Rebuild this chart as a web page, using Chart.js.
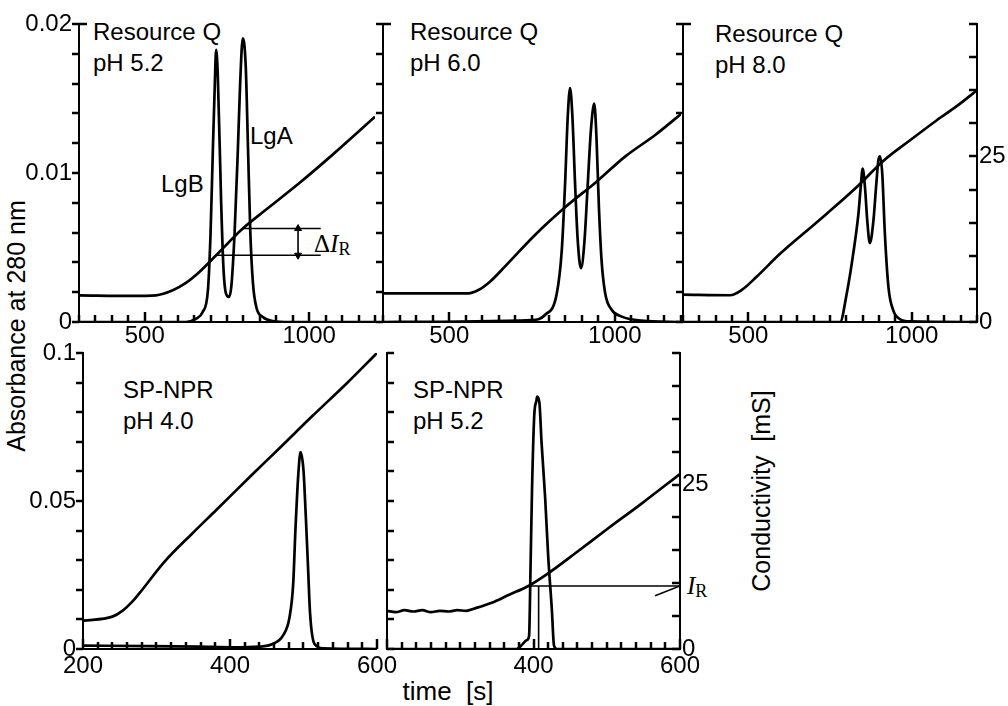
<!DOCTYPE html>
<html lang="en">
<head>
<meta charset="UTF-8" />
<title>Ion-exchange chromatograms</title>
<style>
  body { margin: 0; background: #fff; color: #000; font-family: "Liberation Sans", Arial, sans-serif; }
  #page { position: relative; width: 1008px; height: 706px; overflow: hidden; }
  canvas { position: absolute; }
  .lbl { position: absolute; font-size: 24px; line-height: 31px; white-space: nowrap; }
  .sym { position: absolute; font-family: "Liberation Serif", "Times New Roman", serif; font-size: 25px; line-height: 25px; white-space: nowrap; }
  .sym i { font-style: italic; }
  .sym sub { font-size: 18px; vertical-align: -3px; line-height: 0; }
  .ax { position: absolute; font-size: 25px; line-height: 25px; white-space: pre; transform: translate(-50%, -50%); }
  .rot { transform: translate(-50%, -50%) rotate(-90deg); }
</style>
</head>
<body>
<div id="page">
  <div class="lbl" style="left:93px;top:16px">Resource Q<br>pH 5.2</div>
  <div class="lbl" style="left:410px;top:16px">Resource Q<br>pH 6.0</div>
  <div class="lbl" style="left:715px;top:18px">Resource Q<br>pH 8.0</div>
  <div class="lbl" style="left:123px;top:374px">SP-NPR<br>pH 4.0</div>
  <div class="lbl" style="left:413px;top:374px">SP-NPR<br>pH 5.2</div>
  <div class="lbl" style="left:250px;top:120px">LgA</div>
  <div class="lbl" style="left:161px;top:168px">LgB</div>
  <div class="sym" style="left:314px;top:231px">Δ<i>I</i><sub>R</sub></div>
  <div class="sym" style="left:687px;top:573px"><i>I</i><sub>R</sub></div>
  <div class="ax rot" style="left:16px;top:326px">Absorbance at 280 nm</div>
  <div class="ax rot" style="left:761px;top:491px">Conductivity  [mS]</div>
  <div class="ax" style="left:448px;top:691px;font-size:26px">time  [s]</div>
</div>

<script src="https://cdn.jsdelivr.net/npm/chart.js"></script>
<script>
// ---- Resource Q, pH 5.2 (time s, absorbance / conductivity mS)
const tlAbsT = [300, 625, 656, 676, 692, 700, 707, 713, 717, 722, 732, 739, 747, 756, 763, 773, 783, 790, 798, 807, 814, 821, 829, 839, 859, 890, 941, 1200];
const tlAbs  = [0, 0, 0.00022, 0.00067, 0.00213, 0.00594, 0.01154, 0.01602, 0.01826, 0.01658, 0.00818, 0.0037, 0.0019, 0.00168, 0.00235, 0.00594, 0.01154, 0.01602, 0.01904, 0.01714, 0.01154, 0.00594, 0.00258, 0.00101, 0.00034, 0.00007, 0, 0];
const tlCondT = [300, 463, 534, 585, 625, 666, 717, 798, 869, 971, 1073, 1200];
const tlCond  = [4.03, 3.93, 4.03, 4.79, 5.9, 7.56, 10.08, 14.11, 16.98, 21.02, 25.35, 31.0];
// delta I_R marker: levels at the two peak times
const dIrStart = [798, 717];
const dIrLevel = [14.11, 10.08];
const dIrEnd = 1035;
const dIrArrowT = 966;

// ---- Resource Q, pH 6.0
const tmAbsT = [300, 749, 789, 825, 840, 850, 858, 865, 872, 880, 888, 898, 908, 918, 928, 938, 945, 952, 960, 971, 991, 1021, 1081, 1200];
const tmAbs  = [0, 0.00013, 0.00047, 0.00193, 0.00484, 0.00932, 0.0138, 0.0157, 0.0138, 0.00932, 0.00551, 0.00361, 0.00529, 0.00909, 0.0129, 0.01465, 0.01223, 0.00775, 0.00417, 0.00193, 0.00081, 0.00036, 0.00009, 0];
const tmCondT = [300, 558, 588, 623, 668, 759, 850, 945, 1031, 1122, 1200];
const tmCond  = [4.33, 4.33, 4.83, 6.09, 8.36, 13.14, 17.32, 21.19, 24.97, 28.24, 31.4];

// ---- Resource Q, pH 8.0
const trAbsT = [300, 781, 801, 821, 837, 844, 850, 857, 864, 872, 883, 891, 898, 903, 910, 918, 929, 944, 964, 995, 1200];
const trAbs  = [0, 0, 0.00188, 0.00457, 0.00726, 0.00906, 0.01029, 0.00906, 0.00682, 0.00529, 0.00682, 0.00906, 0.01085, 0.01112, 0.00995, 0.00592, 0.00233, 0.00076, 0.0002, 0.00004, 0];
const trCondT = [300, 444, 480, 526, 597, 668, 740, 832, 913, 995, 1077, 1138, 1200];
const trCond  = [4.14, 4.04, 4.84, 6.86, 10.29, 13.32, 16.35, 20.38, 24.32, 27.44, 30.47, 32.59, 35.0];

// ---- SP-NPR, pH 4.0
const blAbsT = [200, 290, 358, 404, 440, 458, 472, 481, 486, 489, 493, 496, 500, 503, 506, 509, 515, 527, 600];
const blAbs  = [0.00113, 0.001, 0.00079, 0.00056, 0.00079, 0.00169, 0.00451, 0.01071, 0.02198, 0.04002, 0.05919, 0.06652, 0.06032, 0.04566, 0.02875, 0.01184, 0.00169, 0.00023, 0];
const blCondT = [200, 240, 254, 267, 276, 311, 349, 381, 431, 468, 511, 559, 600];
const blCond  = [4.31, 4.92, 5.83, 7.2, 8.37, 13.29, 17.6, 21.1, 26.6, 30.6, 35.3, 40.4, 45.0];

// ---- SP-NPR, pH 5.2
const bmAbsT = [200, 377, 384, 391, 394, 396, 398, 401, 404, 405, 408, 411, 416, 420, 425, 428, 432, 600];
const bmAbs  = [0, 0, 0.00135, 0.00304, 0.0045, 0.02815, 0.05405, 0.07882, 0.08389, 0.08524, 0.08332, 0.06981, 0.05067, 0.03153, 0.01351, 0.00113, 0, 0];
const bmCondT = [200, 212, 224, 236, 248, 260, 272, 284, 296, 308, 320, 343, 366, 393, 420, 457, 502, 548, 600];
const bmCond  = [5.8, 5.6, 5.9, 5.7, 5.9, 5.6, 5.8, 5.7, 5.9, 5.8, 6.18, 7.04, 8.21, 9.58, 11.5, 14.55, 18.35, 22.15, 26.61];
// I_R marker
const irT = 407;
const irLevel = 9.58;
const irLineStart = 395;
const irPointerT = [566, 600];
const irPointerY = [8.1, 9.58];

// axis ranges / ticks
const topTime = [300, 1200], topTimeStep = 50, topTimeLabels = [500, 1000];
const botTime = [200, 600], botTimeStep = 20;
const topAbsMax = 0.02, topAbsStep = 0.002;
const botAbsMax = 0.1, botAbsStep = 0.01;
const condMax = 45, condStep = 5;

const page = document.getElementById('page');
const TICK_FONT = { family: '"Liberation Sans", Arial, sans-serif', size: 24 };
const near = (v, unit) => Math.abs(v - unit * Math.round(v / unit)) < 1e-9;
const fmt = v => String(+v.toFixed(3));
const pts = (xs, ys) => xs.map((x, i) => ({ x, y: ys[i] }));

function curve(xs, ys, axis) {
  return { data: pts(xs, ys), yAxisID: axis, borderColor: '#000', borderWidth: 2.7,
    pointRadius: 0, cubicInterpolationMode: 'monotone', fill: false };
}
function segment(xs, ys, extra) {
  return Object.assign({ data: pts(xs, ys), yAxisID: 'y2', borderColor: '#000', borderWidth: 1.6,
    pointRadius: 0, fill: false }, extra || {});
}

function xAxis(range, step, pad, h, labelFn) {
  return {
    type: 'linear', position: 'bottom', min: range[0], max: range[1],
    afterFit: s => { s.height = h; },
    border: { color: '#000', width: 2 },
    grid: { drawOnChartArea: false, drawTicks: false, tickLength: 0 },
    ticks: { stepSize: step, maxTicksLimit: 100, autoSkip: false, maxRotation: 0, padding: pad,
      color: '#000', font: TICK_FONT, callback: labelFn }
  };
}
function yAxis(pos, max, step, pad, w, labelFn, show) {
  return {
    type: 'linear', position: pos, min: 0, max: max, display: show,
    afterFit: s => { s.width = w; },
    border: { color: '#000', width: 2 },
    grid: { drawOnChartArea: false, drawTicks: false, tickLength: 0 },
    ticks: { stepSize: step, maxTicksLimit: 100, autoSkip: false, padding: pad, color: '#000',
      font: TICK_FONT, callback: labelFn }
  };
}

// tick marks from each scale's own tick list; dir = +1 points right/down, -1 left/up
function tickPlugin(spec) {
  return {
    id: 'tickMarks',
    afterDraw(chart) {
      const ctx = chart.ctx;
      ctx.save();
      ctx.strokeStyle = '#000';
      ctx.lineWidth = 2.5;
      Object.keys(spec).forEach(id => {
        const sc = chart.scales[id];
        const s = spec[id];
        if (!sc) return;
        const mark = (value, len, dir) => {
          const p = Math.round(sc.getPixelForValue(value));
          ctx.beginPath();
          if (sc.isHorizontal()) { ctx.moveTo(p, sc.top); ctx.lineTo(p, sc.top + dir * len); }
          else {
            const x0 = s.edge === 'right' ? sc.right : sc.left;
            ctx.moveTo(x0, p); ctx.lineTo(x0 + dir * len, p);
          }
          ctx.stroke();
        };
        sc.ticks.forEach(t => {
          const major = s.majorEvery ? near(t.value, s.majorEvery) : false;
          mark(t.value, major ? s.major : s.len, s.dir);
        });
        if (s.stub) mark(sc.max, s.stub, -s.dir);
      });
      ctx.restore();
    }
  };
}

function makePanel(box, area, scaleFn, spec, datasets, rightAxis) {
  const cv = document.createElement('canvas');
  cv.width = box.w; cv.height = box.h;
  cv.style.left = box.x + 'px'; cv.style.top = box.y + 'px';
  page.appendChild(cv);
  const rightW = box.x + box.w - area.r;
  return new Chart(cv, {
    type: 'line',
    data: { datasets: datasets },
    options: {
      responsive: false, animation: false, devicePixelRatio: 1,
      layout: { padding: { top: area.t - box.y, left: 0, bottom: 0, right: rightAxis ? 0 : rightW } },
      plugins: { legend: { display: false }, tooltip: { enabled: false } },
      scales: scaleFn(area.l - box.x, box.y + box.h - area.b, rightW)
    },
    plugins: [tickPlugin(spec)]
  });
}

const noLabel = () => '';
const topXLabel = v => topTimeLabels.includes(v) ? String(v) : '';
const condLabel = v => (v === 0 || v === 25) ? String(v) : '';

const topXTicks = { len: 7, major: 10, majorEvery: 500, dir: -1 };
const botXTicks = { len: 7, major: 10, majorEvery: 200, dir: -1 };
const leftOut = { len: 7, dir: -1, edge: 'right' };
const leftOutStub = { len: 7, dir: -1, edge: 'right', stub: 8 };
const leftIn = { len: 7, dir: 1, edge: 'right' };
const condTicks = { len: 8, dir: -1, edge: 'left' };

// Resource Q pH 5.2
makePanel({ x: 0, y: 0, w: 385, h: 360 }, { l: 79, t: 24, r: 375, b: 322 },
  (lw, bh) => ({
    x: xAxis(topTime, topTimeStep, 0, bh, topXLabel),
    y: yAxis('left', topAbsMax, topAbsStep, 7, lw, v => near(v, 0.01) ? fmt(v) : '', true),
    y2: yAxis('right', condMax, condStep, 2, 0, noLabel, false)
  }),
  { x: topXTicks, y: leftOutStub },
  [
    curve(tlAbsT, tlAbs, 'y'),
    curve(tlCondT, tlCond, 'y2'),
    segment([dIrStart[0], dIrEnd], [dIrLevel[0], dIrLevel[0]]),
    segment([dIrStart[1], dIrEnd], [dIrLevel[1], dIrLevel[1]]),
    segment([dIrArrowT, dIrArrowT], [dIrLevel[1], dIrLevel[0]], {
      pointRadius: 4, pointStyle: 'triangle', pointRotation: [180, 0],
      pointBackgroundColor: '#000', pointBorderColor: '#000', pointBorderWidth: 1 })
  ], false);

// Resource Q pH 6.0
makePanel({ x: 373, y: 0, w: 315, h: 360 }, { l: 383, t: 24, r: 681, b: 322 },
  (lw, bh) => ({
    x: xAxis(topTime, topTimeStep, 0, bh, topXLabel),
    y: yAxis('left', topAbsMax, topAbsStep, 0, lw, noLabel, true),
    y2: yAxis('right', condMax, condStep, 2, 0, noLabel, false)
  }),
  { x: topXTicks, y: leftOutStub },
  [curve(tmAbsT, tmAbs, 'y'), curve(tmCondT, tmCond, 'y2')], false);

// Resource Q pH 8.0
makePanel({ x: 673, y: 0, w: 335, h: 360 }, { l: 683, t: 24, r: 977, b: 322 },
  (lw, bh, rw) => ({
    x: xAxis(topTime, topTimeStep, 0, bh, topXLabel),
    y: yAxis('left', topAbsMax, topAbsStep, 0, lw, noLabel, true),
    y2: yAxis('right', condMax, condStep, 2, rw, condLabel, true)
  }),
  { x: topXTicks, y: leftOutStub, y2: condTicks },
  [curve(trAbsT, trAbs, 'y'), curve(trCondT, trCond, 'y2')], true);

// SP-NPR pH 4.0
makePanel({ x: 0, y: 330, w: 400, h: 376 }, { l: 83, t: 353, r: 377, b: 649 },
  (lw, bh) => ({
    x: xAxis(botTime, botTimeStep, 3, bh, v => near(v, 200) ? String(v) : ''),
    y: yAxis('left', botAbsMax, botAbsStep, 7, lw, v => near(v, 0.05) ? fmt(v) : '', true),
    y2: yAxis('right', condMax, condStep, 2, 0, noLabel, false)
  }),
  { x: botXTicks, y: leftOut },
  [curve(blAbsT, blAbs, 'y'), curve(blCondT, blCond, 'y2')], false);

// SP-NPR pH 5.2
makePanel({ x: 377, y: 330, w: 345, h: 376 }, { l: 387, t: 353, r: 680, b: 649 },
  (lw, bh, rw) => ({
    x: xAxis(botTime, botTimeStep, 3, bh, v => (near(v, 200) && v > botTime[0]) ? String(v) : ''),
    y: yAxis('left', botAbsMax, botAbsStep, 0, lw, noLabel, true),
    y2: yAxis('right', condMax, condStep, 2, rw, condLabel, true)
  }),
  { x: botXTicks, y: leftIn, y2: condTicks },
  [
    curve(bmAbsT, bmAbs, 'y'),
    curve(bmCondT, bmCond, 'y2'),
    segment([irT, irT], [0, irLevel]),
    segment([irLineStart, botTime[1]], [irLevel, irLevel]),
    segment(irPointerT, irPointerY)
  ], true);
</script>
</body>
</html>
